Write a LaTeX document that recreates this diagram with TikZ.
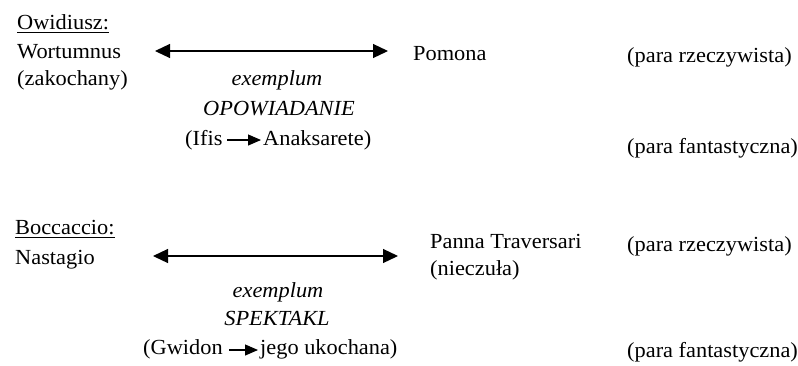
\documentclass[tikz,border=0pt]{standalone}
\usepackage{fontspec}
\setmainfont[FakeStretch=1.04]{Liberation Serif}
\usetikzlibrary{arrows.meta}
\tikzset{
  txt/.style={font=\fontsize{21.5}{26}\selectfont, inner sep=0pt, anchor=base west},
  itxt/.style={font=\fontsize{21.5}{26}\selectfont\itshape, inner sep=0pt, anchor=base},
  bigarrow/.style={line width=1.2pt, {Triangle[length=15pt,width=14pt]}-{Triangle[length=15pt,width=14pt]}},
  smallarrow/.style={line width=1.1pt, -{Triangle[length=13pt,width=11pt]}},
  uline/.style={line width=0.9pt}
}
\begin{document}
\begin{tikzpicture}[x=1pt,y=-1pt]
\useasboundingbox (0,0) rectangle (798,365);
% ---- Owidiusz ----
\node[txt] (ow) at (17,29) {Owidiusz:};
\draw[uline] ([yshift=-3pt]ow.base west) -- ([yshift=-3pt]ow.base east);
\node[txt] (wort) at (17,58) {Wortumnus};
\node[txt] (zak) at (17,85) {(zakochany)};
\coordinate (a1l) at (155,51);
\coordinate (a1r) at (388,51);
\draw[bigarrow] (a1l) -- (a1r);
\node[txt] (pom) at (413,60) {Pomona};
\node[itxt] (ex1) at (277,85) {exemplum};
\node[itxt] (op) at (279,115) {OPOWIADANIE};
\node[txt] (ifis) at (185,145) {(Ifis};
\coordinate (i1) at (227,140);
\coordinate (i2) at (261,140);
\draw[smallarrow] (i1) -- (i2);
\node[txt] (anak) at (263,145) {Anaksarete)};
\node[txt] (pr1) at (627,62) {(para rzeczywista)};
\node[txt] (pf1) at (627,153) {(para fantastyczna)};
% ---- Boccaccio ----
\node[txt] (bo) at (15,234) {Boccaccio:};
\draw[uline] ([yshift=-3pt]bo.base west) -- ([yshift=-3pt]bo.base east);
\node[txt] (nas) at (15,264) {Nastagio};
\coordinate (a2l) at (153,256);
\coordinate (a2r) at (398,256);
\draw[bigarrow] (a2l) -- (a2r);
\node[txt] (pan) at (430,248) {Panna Traversari};
\node[txt] (nie) at (430,275) {(nieczuła)};
\node[itxt] (ex2) at (278,297) {exemplum};
\node[itxt] (sp) at (277,325) {SPEKTAKL};
\node[txt] (gw) at (143,354) {(Gwidon};
\coordinate (g1) at (229,350);
\coordinate (g2) at (258,350);
\draw[smallarrow] (g1) -- (g2);
\node[txt] (jego) at (260,354) {jego ukochana)};
\node[txt] (pr2) at (627,251) {(para rzeczywista)};
\node[txt] (pf2) at (627,357) {(para fantastyczna)};
\end{tikzpicture}
\end{document}
